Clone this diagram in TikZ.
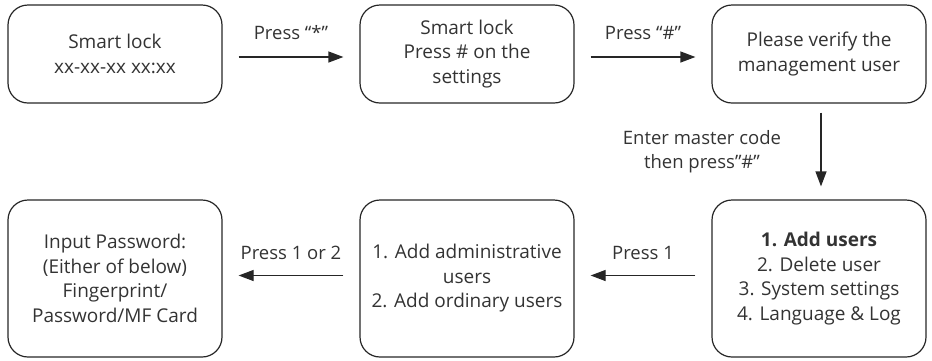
\documentclass[tikz,border=0pt]{standalone}
\usepackage{fontspec}
\setmainfont{Open Sans}
\usetikzlibrary{arrows.meta}

\begin{document}
\begin{tikzpicture}[x=1pt, y=-1pt, node distance=352pt,
		screen/.style={draw=black!85, line width=1.2pt, rounded corners=20pt, align=center, minimum width=214pt, text=black!80, font=\fontsize{19}{24.5}\selectfont},
		flow/.style={-{Triangle[length=15pt,width=11pt]}, line width=1.2pt, draw=black!85, shorten <=16pt, shorten >=16pt},
		lbl/.style={text=black!80, align=center, font=\fontsize{18.5}{23.5}\selectfont}]
	\useasboundingbox (0,0) rectangle (932,360);

	% top row
	\node[screen, minimum height=98pt] (home) at (115,54) {Smart lock\\xx-xx-xx xx:xx};
	\node[screen, minimum height=98pt, right of=home] (settings) {Smart lock\\Press \# on the\\settings};
	\node[screen, minimum height=98pt, right of=settings] (verify) {Please verify the\\management user};

	% bottom row
	\node[screen, minimum height=157pt, below of=verify, node distance=224.5pt] (menu) {\textbf{1. Add users}\\2. Delete user\\3. System settings\\4. Language \& Log};
	\node[screen, minimum height=157pt, left of=menu] (add) {1. Add administrative\\users\\2. Add ordinary users};
	\node[screen, minimum height=157pt, left of=add] (input) {Input Password:\\(Either of below)\\Fingerprint/\\Password/MF Card};

	\foreach \from / \to / \txt in {home/settings/Press “*”, settings/verify/Press “\#”} {
		\draw[flow] ([yshift=-3pt]\from.east) -- ([yshift=-3pt]\to.west) node[lbl, midway, above=13pt] {\txt};
	}
	\foreach \from / \to / \txt in {menu/add/Press 1, add/input/Press 1 or 2} {
		\draw[flow] ([yshift=3pt]\from.west) -- ([yshift=3pt]\to.east) node[lbl, midway, above=12pt] {\txt};
	}

	\draw[flow, shorten <=9pt, shorten >=13pt] ([xshift=2pt]verify.south) -- ([xshift=2pt]menu.north)
		node[lbl, midway, left=36pt] {Enter master code\\then press"\#"};
\end{tikzpicture}
\end{document}
